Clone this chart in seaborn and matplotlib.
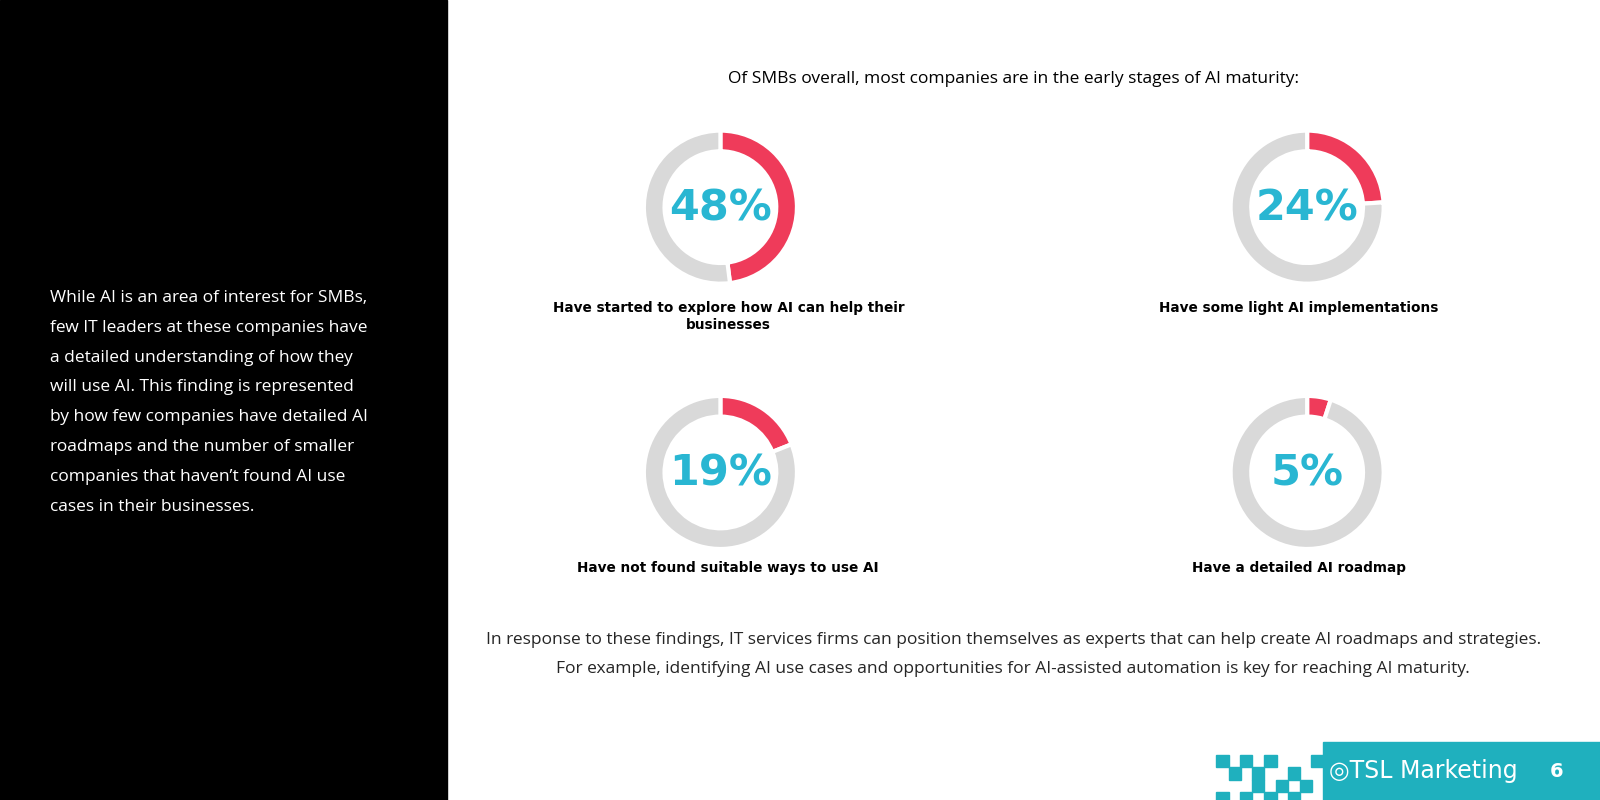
import matplotlib
matplotlib.use("Agg")
import matplotlib.pyplot as plt
import seaborn as sns
from matplotlib.patches import Rectangle

sns.set_style("white")

values = [48, 24, 19, 5]
labels = ["Have started to explore how AI can help their\nbusinesses",
          "Have some light AI implementations",
          "Have not found suitable ways to use AI",
          "Have a detailed AI roadmap"]
centers_px = [(706, 203), (1281, 203), (706, 463), (1281, 463)]
label_x_px = [714, 1273, 713, 1273]
label_y_px = [295, 295, 550, 550]

W, H = 1568, 784
fig = plt.figure(figsize=(16, 8), dpi=100)
fig.patch.set_facecolor("white")

def fx(x): return x / W
def fy(y): return 1 - y / H

fig.patches.append(Rectangle((0, 0), fx(438), 1, transform=fig.transFigure, color="black", zorder=0))

left_text = ["While AI is an area of interest for SMBs,",
             "few IT leaders at these companies have",
             "a detailed understanding of how they",
             "will use AI. This finding is represented",
             "by how few companies have detailed AI",
             "roadmaps and the number of smaller",
             "companies that haven\u2019t found AI use",
             "cases in their businesses."]
for i, line in enumerate(left_text):
    fig.text(fx(49), fy(292 + i * 29.2), line, color="white", fontsize=12.5,
             family="Open Sans", va="center", ha="left")

fig.text(fx(993), fy(77), "Of SMBs overall, most companies are in the early stages of AI maturity:",
         ha="center", va="center", fontsize=12.5, family="Open Sans", color="black")

d = 150
for v, lab, (cx, cy), lx, ly in zip(values, labels, centers_px, label_x_px, label_y_px):
    ax = fig.add_axes([fx(cx - d / 2), fy(cy + d / 2), d / W, d / H])
    ax.pie([v, 100 - v], colors=["#EF3B5A", "#D9D9D9"], startangle=90, counterclock=False,
           radius=1, wedgeprops=dict(width=0.27, edgecolor="white", linewidth=3))
    ax.set_xlim(-1.0, 1.0)
    ax.set_ylim(-1.0, 1.0)
    ax.set_aspect("equal")
    ax.axis("off")
    ax.text(0, -0.02, f"{v}%", ha="center", va="center", fontsize=31, fontweight="heavy",
            color="#29B6D2", family="DejaVu Sans")
    fig.text(fx(lx), fy(ly), lab, ha="center", va="top",
             fontsize=9.8, fontweight="bold", family="DejaVu Sans", color="black",
             linespacing=1.25)

fig.text(fx(993), fy(627), "In response to these findings, IT services firms can position themselves as experts that can help create AI roadmaps and strategies.",
         ha="center", va="center", fontsize=12.5, family="Open Sans")
fig.text(fx(993), fy(656), "For example, identifying AI use cases and opportunities for AI-assisted automation is key for reaching AI maturity.",
         ha="center", va="center", fontsize=12.5, family="Open Sans")

teal = "#1FB0BE"
fig.patches.append(Rectangle((fx(1297), 0), 1 - fx(1297), (784 - 727) / H,
                             transform=fig.transFigure, color=teal, zorder=1))
sq = 12
checks = [(1192, 740), (1215, 740), (1239, 740), (1204, 752), (1227, 752), (1262, 752),
          (1285, 740), (1250, 764), (1227, 764), (1192, 776), (1215, 776), (1262, 776),
          (1274, 764), (1239, 776)]
for (x, y) in checks:
    fig.patches.append(Rectangle((fx(x), fy(y + sq)), sq / W, sq / H, transform=fig.transFigure,
                                 color=teal, zorder=1))
fig.text(fx(1395), fy(756), "\u25CETSL Marketing", color="white", fontsize=17, ha="center",
         va="center", family="DejaVu Sans")
fig.text(fx(1525), fy(756), "6", color="white", fontsize=14, fontweight="bold", ha="center",
         va="center", family="DejaVu Sans")

fig.savefig("out.png", dpi=100, facecolor="white")
